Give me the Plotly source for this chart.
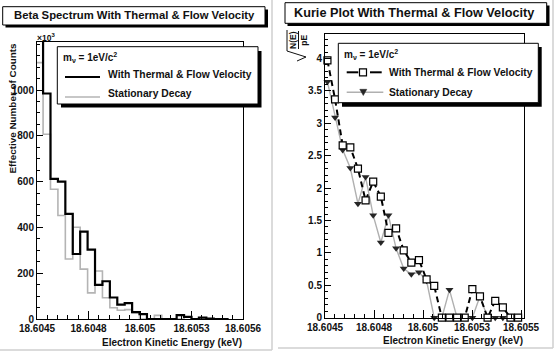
import plotly.graph_objects as go

# ---------------- data ----------------
bin_edges = [18.6044930, 18.6045319, 18.6045708, 18.6046097, 18.6046486, 18.6046875,
             18.6047264, 18.6047653, 18.6048042, 18.6048431, 18.6048820, 18.6049209,
             18.6049598, 18.6049987, 18.6050376, 18.6050765, 18.6051154, 18.6051543,
             18.6051932, 18.6052321, 18.6052710, 18.6053099, 18.6053488, 18.6053877,
             18.6054266, 18.6054655, 18.6055044]

counts_thermal = [1366, 985, 612, 600, 459, 284, 382, 303, 149, 165, 94, 63, 69,
                  30, 21, 0, 0, 0, 0, 17, 9, 0, 6, 2, 0, 0]
counts_stationary = [1120, 807, 567, 452, 262, 401, 218, 114, 210, 93, 49, 38, 41,
                     27, 0, 0, 16, 0, 0, 0, 9, 0, 0, 0, 0, 0]

kurie_thermal = [3.97, 3.37, 2.66, 2.63, 2.30, 1.81, 2.10, 1.87, 1.31, 1.38, 1.04, 0.85, 0.89,
                 0.59, 0.49, 0, 0, 0, 0, 0.44, 0.33, 0, 0.26, 0.16, 0, 0]
kurie_stationary = [3.64, 3.09, 2.59, 2.31, 1.76, 2.17, 1.58, 1.16, 1.58, 1.07, 0.76, 0.67, 0.70,
                    0.57, 0, 0, 0.43, 0, 0, 0, 0.33, 0, 0, 0, 0, 0]

left_tick_values = [18.6045, 18.60477, 18.60504, 18.60531, 18.60558]
left_tick_labels = ["18.6045", "18.6048", "18.605", "18.6053", "18.6056"]
right_tick_values = [18.6045, 18.60475, 18.6050, 18.60525, 18.6055]
right_tick_labels = ["18.6045", "18.6048", "18.605", "18.6053", "18.6055"]
left_y_tick_values = [0, 200, 400, 600, 800, 1000]
left_y_tick_labels = ["0", "200", "400", "600", "800", "1000"]
right_y_tick_values = [0, 0.5, 1, 1.5, 2, 2.5, 3, 3.5, 4]
right_y_tick_labels = ["0", "0.5", "1", "1.5", "2", "2.5", "3", "3.5", "4"]

left_title = "Beta Spectrum With Thermal & Flow Velocity"
right_title = "Kurie Plot With Thermal & Flow Velocity"
x_title = "Electron Kinetic Energy (keV)"
left_y_title = "Effective Number of Counts"
series_names = ["With Thermal & Flow Velocity", "Stationary Decay"]
mass_label = "m<sub>ν</sub> = 1eV/c<sup>2</sup>"

# ---------------- helpers ----------------
W, H = 560, 357
FONT = "Liberation Sans"


def fx(p):
    return p / W


def fy(p):
    return 1 - p / H


centers = [(a + b) / 2 for a, b in zip(bin_edges[:-1], bin_edges[1:])]

fig = go.Figure()

# Left: histograms as step outlines
fig.add_trace(go.Scatter(x=bin_edges, y=counts_stationary + [counts_stationary[-1]],
                         mode="lines", line=dict(shape="hv", color="#b4b4b4", width=1.6),
                         xaxis="x", yaxis="y", hoverinfo="skip"))
fig.add_trace(go.Scatter(x=bin_edges, y=counts_thermal + [counts_thermal[-1]],
                         mode="lines", line=dict(shape="hv", color="#000000", width=2.2),
                         xaxis="x", yaxis="y", hoverinfo="skip"))

# Right: Kurie plot
fig.add_trace(go.Scatter(x=centers, y=kurie_stationary, mode="lines+markers",
                         line=dict(color="#b0b0b0", width=1.4),
                         marker=dict(symbol="triangle-down", size=7, color="#262626"),
                         xaxis="x2", yaxis="y2", hoverinfo="skip", cliponaxis=False))
fig.add_trace(go.Scatter(x=centers, y=kurie_thermal, mode="lines+markers",
                         line=dict(color="#000000", width=2, dash="6px,4px"),
                         marker=dict(symbol="square", size=7, color="white",
                                     line=dict(color="#000000", width=1.2)),
                         xaxis="x2", yaxis="y2", hoverinfo="skip", cliponaxis=False))

tickfont = dict(family=FONT, size=10, color="#111", weight="bold")
common = dict(showgrid=False, zeroline=False, showline=True, mirror=True,
              linecolor="#000", linewidth=1, ticks="inside", tickcolor="#000",
              tickfont=tickfont, automargin=False, tickmode="array")

fig.update_layout(
    template="none",
    width=W, height=H, margin=dict(l=0, r=0, t=0, b=0, pad=0, autoexpand=False),
    paper_bgcolor="white", plot_bgcolor="rgba(0,0,0,0)",
    showlegend=False,
    xaxis=dict(domain=[fx(37), fx(243)], range=[18.6045, 18.60558], anchor="y",
               tickvals=left_tick_values, ticktext=left_tick_labels,
               ticklen=8, minor=dict(ticks="inside", ticklen=4, tick0=18.6045, dtick=0.000054,
                                     tickcolor="#000", showgrid=False),
               **common),
    yaxis=dict(domain=[fy(319), fy(42)], range=[0, 1210], anchor="x",
               tickvals=left_y_tick_values, ticktext=left_y_tick_labels, ticklen=6,
               minor=dict(ticks="inside", ticklen=3, tick0=0, dtick=50, tickcolor="#000",
                          showgrid=False),
               **common),
    xaxis2=dict(domain=[fx(325), fx(524)], range=[18.6045, 18.605515], anchor="y2",
                tickvals=right_tick_values, ticktext=right_tick_labels,
                ticklen=8, minor=dict(ticks="inside", ticklen=4, tick0=18.6045, dtick=0.00005,
                                      tickcolor="#000", showgrid=False),
                **common),
    yaxis2=dict(domain=[fy(317.7), fy(33.5)], range=[0, 4.386], anchor="x2",
                tickvals=right_y_tick_values, ticktext=right_y_tick_labels, ticklen=6,
                minor=dict(ticks="inside", ticklen=3, tick0=0, dtick=0.1, tickcolor="#000",
                           showgrid=False),
                **common),
)

shapes = []
annotations = []


def rect(x0, y0, x1, y1, fill, line_color=None, lw=0):
    shapes.append(dict(type="rect", xref="paper", yref="paper",
                       x0=fx(x0), x1=fx(x1), y0=fy(y1), y1=fy(y0),
                       fillcolor=fill, line=dict(color=line_color or fill, width=lw),
                       layer="above"))


def seg(x0, y0, x1, y1, color="#000", width=1, dash=None):
    d = dict(type="line", xref="paper", yref="paper", x0=fx(x0), x1=fx(x1),
             y0=fy(y0), y1=fy(y1), line=dict(color=color, width=width), layer="above")
    if dash:
        d["line"]["dash"] = dash
    shapes.append(d)


def text(x, y, s, size=10, xanchor="left", yanchor="middle", angle=0, color="#111"):
    annotations.append(dict(xref="paper", yref="paper", x=fx(x), y=fy(y), text=s,
                            showarrow=False, xanchor=xanchor, yanchor=yanchor,
                            textangle=angle, borderpad=0,
                            font=dict(family=FONT, size=size, color=color, weight="bold")))


# canvas borders (light gray)
seg(272, 0, 272, 350, color="#cfcfcf", width=1.5)
seg(0, 350, 272, 350, color="#cfcfcf", width=1.5)
seg(553, 0, 553, 348, color="#cfcfcf", width=1.5)
seg(278, 348, 553, 348, color="#cfcfcf", width=1.5)

# title boxes with shadow
rect(5.5, 9.5, 268, 27.5, "#000")
rect(2.7, 6.7, 265, 25, "white", "#000", 1)
text(134, 15.5, left_title, size=11.3, xanchor="center")
rect(287.5, 5.5, 549.5, 26, "#000")
rect(285, 2.7, 546.7, 23.3, "white", "#000", 1)
text(414, 13.3, right_title, size=12.7, xanchor="center")

# legend boxes with shadow
rect(61, 51, 261.5, 107.5, "#000")
rect(57.3, 46.7, 258, 104, "white", "#000", 1)
text(61.5, 57.5, mass_label, size=10)
seg(65, 77, 100, 77, color="#000", width=2.2)
text(106.5, 74.5, series_names[0], size=10.3)
seg(65, 97, 100, 97, color="#b4b4b4", width=1.6)
text(106.5, 94, series_names[1], size=10.3)

rect(342, 47, 541.7, 106.7, "#000")
rect(338.3, 43.3, 538.3, 102.7, "white", "#000", 1)
text(343, 54, mass_label, size=10)
seg(346.7, 72.3, 358.3, 72.3, color="#000", width=2)
seg(370, 72.3, 381.7, 72.3, color="#000", width=2)
rect(359.5, 68.8, 366.5, 75.8, "white", "#000", 1.2)
text(388, 72.3, series_names[0], size=10.3)
seg(346.7, 92.3, 383.3, 92.3, color="#b0b0b0", width=1.4)
shapes.append(dict(type="path", xref="paper", yref="paper",
                   path="M {} {} L {} {} L {} {} Z".format(fx(359.8), fy(89.3), fx(366.8), fy(89.3),
                                                           fx(363.3), fy(95.5)),
                   fillcolor="#262626", line=dict(color="#262626", width=0.5), layer="above"))
text(388, 92.3, series_names[1], size=10.3)

# axis titles
text(243, 342, x_title, size=10, xanchor="right")
text(524, 340, x_title, size=10, xanchor="right")
text(12, 42, left_y_title, size=9.9, xanchor="center", yanchor="top", angle=-90)
text(36, 44, "×10<sup>3</sup>", size=8.5, xanchor="left", yanchor="bottom")

# right y title: sqrt(N(E)/pE), rotated
text(298, 40, "N(E)<br>pE", size=8.5, xanchor="center", yanchor="middle", angle=-90)
seg(298.5, 31, 298.5, 49, color="#111", width=1)
seg(287, 30, 287, 51, color="#111", width=1)
seg(287, 51, 306, 57, color="#111", width=1)
seg(306, 57, 297, 61, color="#111", width=1)

fig.update_layout(shapes=shapes, annotations=annotations)
fig.write_html("out.html")
